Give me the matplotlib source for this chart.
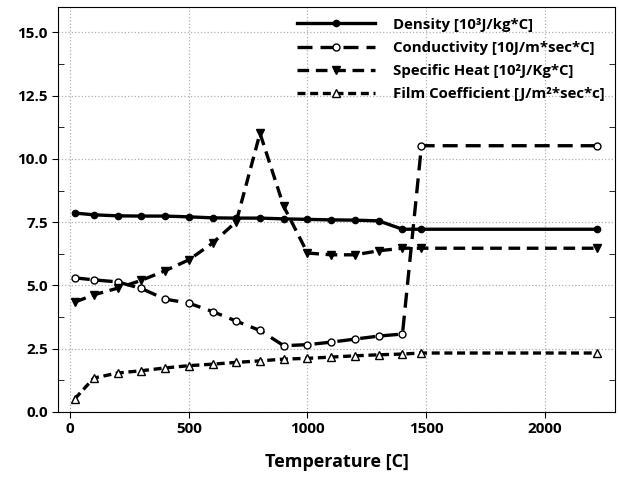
import matplotlib
matplotlib.use('Agg')
import matplotlib.pyplot as plt
from matplotlib.ticker import MultipleLocator

# Material properties vs temperature

plt.rcParams['font.family'] = ['Open Sans', 'DejaVu Sans']
plt.rcParams['font.weight'] = 'bold'

temperature = [20, 100, 200, 300, 400, 500, 600, 700, 800, 900, 1000,
               1100, 1200, 1300, 1400, 1480, 2220]

density = [7.86, 7.79, 7.75, 7.74, 7.74, 7.71, 7.67, 7.66, 7.66, 7.63, 7.61,
           7.59, 7.58, 7.55, 7.22, 7.22, 7.22]
conductivity = [5.30, 5.22, 5.14, 4.88, 4.46, 4.30, 3.97, 3.59, 3.22, 2.62, 2.66,
                2.76, 2.88, 3.00, 3.08, 10.52, 10.52]
specific_heat = [4.34, 4.63, 4.89, 5.20, 5.58, 6.01, 6.67, 7.52, 11.01, 8.12, 6.28,
                 6.21, 6.21, 6.37, 6.47, 6.47, 6.47]
film_coeff = [0.52, 1.34, 1.54, 1.63, 1.74, 1.83, 1.89, 1.96, 2.02, 2.09, 2.12,
              2.17, 2.22, 2.26, 2.29, 2.33, 2.33]

labels = ['Density [10³J/kg*C]',
          'Conductivity [10J/m*sec*C]',
          'Specific Heat [10²J/Kg*C]',
          'Film Coefficient [J/m²*sec*c]']

fig = plt.figure(figsize=(6.19, 4.83), dpi=100)
ax = fig.add_axes([0.094, 0.147, 0.8995, 0.8385])

lw = 2.4
ax.plot(temperature, density, color='black', lw=lw, marker='o', ms=4.5,
        label=labels[0])
ax.plot(temperature, conductivity, color='black', lw=lw, dashes=(4.5, 2.4),
        marker='o', ms=5, mfc='white', mew=1, label=labels[1])
ax.plot(temperature, specific_heat, color='black', lw=lw, dashes=(3.5, 2.0),
        marker='v', ms=6, label=labels[2])
ax.plot(temperature, film_coeff, color='black', lw=lw, dashes=(2.4, 1.4),
        marker='^', ms=5.5, mfc='white', mew=1, label=labels[3])

ax.set_xlim(-50, 2295)
ax.set_ylim(0, 16)
ax.xaxis.set_major_locator(MultipleLocator(500))
ax.yaxis.set_major_locator(MultipleLocator(2.5))
ax.yaxis.set_minor_locator(MultipleLocator(1.25))
ax.yaxis.set_major_formatter(plt.FormatStrFormatter('%.1f'))

ax.tick_params(axis='both', which='major', direction='out', length=4,
               labelsize=11)
ax.tick_params(axis='y', which='minor', direction='in', length=4,
               left=True, right=True)
ax.grid(True, which='major', color='#b0b0b0', linestyle=':', linewidth=0.9)

ax.set_xlabel('Temperature [C]', fontsize=13, fontweight='bold', labelpad=12)

leg = ax.legend(loc='upper right', frameon=False, fontsize=10.8,
                handlelength=5.2, handletextpad=1.2, labelspacing=0.62,
                borderaxespad=0.3)
for t in leg.get_texts():
    t.set_fontweight('bold')

fig.savefig('out.png', dpi=100)
